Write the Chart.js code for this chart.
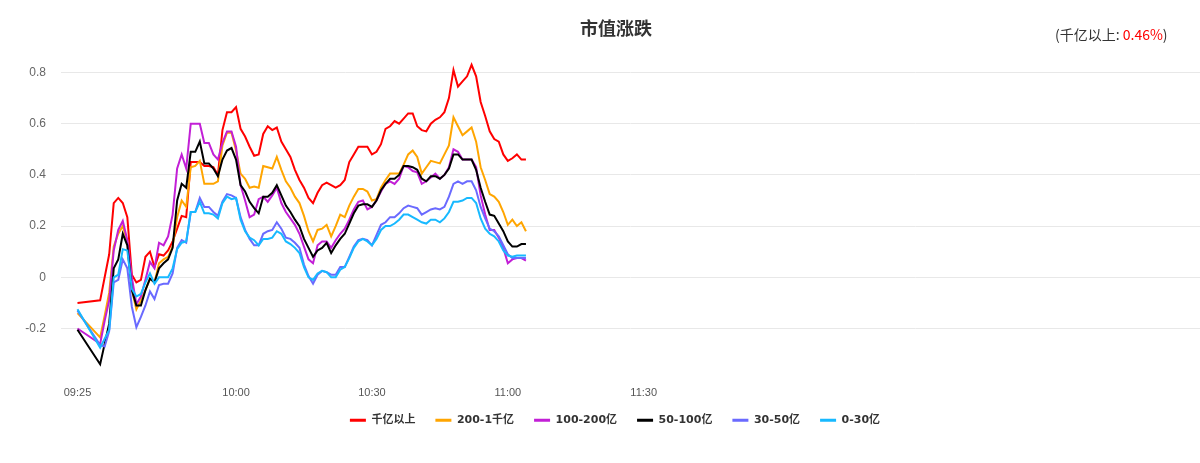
<!DOCTYPE html>
<html>
<head>
<meta charset="utf-8">
<script src="https://cdn.jsdelivr.net/npm/chart.js@4.4.1/dist/chart.umd.min.js"></script>
<style>
  html, body { margin: 0; padding: 0; background: #fff; }
  #wrap { width: 1200px; height: 463px; }
</style>
</head>
<body>
<div id="wrap"><canvas id="plot1" width="1200" height="463"></canvas></div>
<script>
// 市值涨跌 (%), one value per minute from 09:25, 09:26-09:29 empty
const seriesNames = ['千亿以上', '200-1千亿', '100-200亿', '50-100亿', '30-50亿', '0-30亿'];
const seriesColors = ['#ff0000', '#ffa500', '#c21fd6', '#000000', '#6a6aff', '#17b9ff'];

const bigCap = [
    -0.10, null, null, null, null, -0.09, 0.00, 0.09, 0.29, 0.31,
    0.29, 0.235, 0.01, -0.02, -0.01, 0.08, 0.10, 0.04, 0.09, 0.085,
    0.105, 0.14, 0.19, 0.24, 0.235, 0.45, 0.45, 0.45, 0.435, 0.435,
    0.43, 0.40, 0.575, 0.645, 0.645, 0.665, 0.58, 0.55, 0.51, 0.475,
    0.48, 0.56, 0.59, 0.575, 0.585, 0.53, 0.50, 0.47, 0.42, 0.38,
    0.35, 0.31, 0.29, 0.33, 0.36, 0.37, 0.36, 0.35, 0.36, 0.38,
    0.45, 0.48, 0.51, 0.51, 0.51, 0.48, 0.49, 0.52, 0.58, 0.59,
    0.61, 0.60, 0.62, 0.64, 0.64, 0.59, 0.575, 0.57, 0.60, 0.615,
    0.625, 0.645, 0.70, 0.81, 0.745, 0.765, 0.785, 0.83, 0.785, 0.685,
    0.63, 0.57, 0.54, 0.53, 0.48, 0.455, 0.465, 0.48, 0.46, 0.46
];
const cap200 = [
    -0.14, null, null, null, null, -0.235, -0.15, -0.06, 0.12, 0.17,
    0.20, 0.14, -0.05, -0.125, -0.09, -0.05, -0.005, -0.02, 0.055, 0.07,
    0.08, 0.12, 0.235, 0.30, 0.275, 0.43, 0.435, 0.455, 0.365, 0.365,
    0.365, 0.375, 0.515, 0.565, 0.565, 0.495, 0.405, 0.385, 0.35, 0.355,
    0.35, 0.435, 0.43, 0.425, 0.47, 0.42, 0.375, 0.35, 0.315, 0.29,
    0.24, 0.18, 0.14, 0.185, 0.19, 0.205, 0.16, 0.20, 0.245, 0.235,
    0.28, 0.315, 0.345, 0.345, 0.335, 0.30, 0.305, 0.35, 0.38, 0.405,
    0.405, 0.405, 0.44, 0.48, 0.495, 0.47, 0.405, 0.43, 0.455, 0.45,
    0.445, 0.48, 0.515, 0.625, 0.59, 0.555, 0.57, 0.585, 0.53, 0.43,
    0.38, 0.325, 0.315, 0.295, 0.255, 0.205, 0.225, 0.20, 0.215, 0.18
];
const cap100 = [
    -0.20, null, null, null, null, -0.26, -0.17, -0.09, 0.105, 0.185,
    0.22, 0.145, 0.0, -0.105, -0.075, -0.01, 0.06, 0.035, 0.135, 0.125,
    0.16, 0.245, 0.425, 0.48, 0.425, 0.60, 0.60, 0.60, 0.525, 0.525,
    0.48, 0.46, 0.525, 0.57, 0.57, 0.51, 0.36, 0.30, 0.235, 0.245,
    0.305, 0.315, 0.295, 0.32, 0.35, 0.29, 0.255, 0.23, 0.205, 0.17,
    0.12, 0.07, 0.055, 0.125, 0.14, 0.14, 0.115, 0.145, 0.17, 0.19,
    0.225, 0.265, 0.295, 0.30, 0.265, 0.275, 0.30, 0.335, 0.365, 0.375,
    0.365, 0.385, 0.435, 0.43, 0.415, 0.41, 0.365, 0.375, 0.39, 0.405,
    0.385, 0.40, 0.43, 0.50, 0.49, 0.46, 0.46, 0.46, 0.43, 0.32,
    0.245, 0.185, 0.185, 0.155, 0.115, 0.055, 0.07, 0.075, 0.075, 0.065
];
const cap50 = [
    -0.205, null, null, null, null, -0.34, -0.26, -0.18, 0.035, 0.07,
    0.17, 0.125, -0.05, -0.11, -0.11, -0.05, -0.005, -0.02, 0.035, 0.055,
    0.07, 0.115, 0.30, 0.365, 0.35, 0.49, 0.49, 0.53, 0.445, 0.445,
    0.425, 0.395, 0.46, 0.495, 0.505, 0.46, 0.36, 0.335, 0.295, 0.27,
    0.25, 0.315, 0.315, 0.33, 0.36, 0.32, 0.28, 0.255, 0.225, 0.20,
    0.15, 0.115, 0.08, 0.105, 0.115, 0.135, 0.095, 0.125, 0.15, 0.17,
    0.21, 0.25, 0.28, 0.285, 0.285, 0.275, 0.30, 0.34, 0.365, 0.385,
    0.385, 0.40, 0.435, 0.435, 0.43, 0.42, 0.385, 0.375, 0.395, 0.395,
    0.385, 0.40, 0.425, 0.48, 0.48, 0.46, 0.46, 0.46, 0.42, 0.35,
    0.295, 0.245, 0.24, 0.21, 0.18, 0.14, 0.12, 0.12, 0.13, 0.13
];
const cap30 = [
    -0.13, null, null, null, null, -0.265, -0.27, -0.21, -0.02, -0.01,
    0.07, 0.035, -0.115, -0.195, -0.155, -0.11, -0.055, -0.085, -0.03, -0.025,
    -0.025, 0.015, 0.115, 0.145, 0.135, 0.255, 0.255, 0.31, 0.275, 0.275,
    0.255, 0.24, 0.295, 0.325, 0.32, 0.31, 0.235, 0.185, 0.15, 0.125,
    0.125, 0.17, 0.18, 0.185, 0.215, 0.19, 0.155, 0.15, 0.135, 0.115,
    0.05, 0.005, -0.025, 0.01, 0.025, 0.02, 0.01, 0.01, 0.04, 0.04,
    0.08, 0.12, 0.145, 0.15, 0.145, 0.125, 0.165, 0.205, 0.215, 0.235,
    0.235, 0.25, 0.27, 0.28, 0.275, 0.27, 0.245, 0.255, 0.265, 0.27,
    0.265, 0.275, 0.315, 0.365, 0.375, 0.365, 0.375, 0.375, 0.34, 0.275,
    0.23, 0.19, 0.18, 0.16, 0.125, 0.09, 0.075, 0.075, 0.075, 0.075
];
const cap0 = [
    -0.125, null, null, null, null, -0.275, -0.24, -0.205, 0.0, 0.01,
    0.11, 0.105, -0.045, -0.075, -0.065, -0.02, 0.015, -0.025, 0.0, 0.0,
    0.0, 0.035, 0.11, 0.135, 0.14, 0.255, 0.255, 0.295, 0.25, 0.25,
    0.245, 0.23, 0.29, 0.315, 0.305, 0.31, 0.225, 0.18, 0.155, 0.145,
    0.125, 0.15, 0.15, 0.155, 0.18, 0.17, 0.14, 0.13, 0.115, 0.095,
    0.04, 0.0, -0.01, 0.015, 0.025, 0.02, 0.0, 0.0, 0.03, 0.04,
    0.075, 0.115, 0.14, 0.15, 0.14, 0.125, 0.15, 0.185, 0.20, 0.20,
    0.21, 0.225, 0.245, 0.245, 0.235, 0.225, 0.215, 0.21, 0.225, 0.225,
    0.215, 0.23, 0.255, 0.295, 0.295, 0.30, 0.31, 0.31, 0.29, 0.23,
    0.19, 0.17, 0.16, 0.14, 0.105, 0.085, 0.08, 0.085, 0.085, 0.085
];
const allSeries = [bigCap, cap200, cap100, cap50, cap30, cap0];

const yTicks = [-0.2, 0, 0.2, 0.4, 0.6, 0.8];
const xTickTimes = ['09:25', '10:00', '10:30', '11:00', '11:30'];

// trading minutes of the day (category positions)
function hhmm(m) {
    return String(Math.floor(m / 60)).padStart(2, '0') + ':' + String(m % 60).padStart(2, '0');
}
const minuteLabels = [];
for (let m = 9 * 60 + 25; m <= 11 * 60 + 30; m++) minuteLabels.push(hhmm(m));
for (let m = 13 * 60 + 1; m <= 15 * 60; m++) minuteLabels.push(hhmm(m));

function toPoints(arr) {
    return arr.map((v, i) => ({x: i, y: v}));
}

const datasets = allSeries.map((arr, k) => ({
    label: seriesNames[k],
    data: toPoints(arr),
    borderColor: seriesColors[k],
    backgroundColor: seriesColors[k],
    borderWidth: 2,
    pointRadius: 0,
    tension: 0,
    spanGaps: true,
    order: seriesNames.length - k
}));

// "(千亿以上: 0.46%)" at the top right
const headNote = {
    id: 'headNote',
    afterDraw(chart) {
        const ctx = chart.ctx;
        const last = bigCap[bigCap.length - 1];
        const parts = [['(千亿以上: ', '#333'], [last.toFixed(2) + '%', '#ff0000'], [')', '#333']];
        ctx.save();
        ctx.font = '14px "Noto Sans CJK SC"';
        ctx.textBaseline = 'middle';
        let x = 1055;
        parts.forEach(([t, c]) => {
            ctx.fillStyle = c;
            ctx.fillText(t, x, 35);
            x += ctx.measureText(t).width;
        });
        ctx.restore();
    }
};

// title and legend sit a little right of centre, legend row close to the axis labels
const blockNudge = {
    id: 'blockNudge',
    afterLayout(chart) {
        if (chart.legend) {
            chart.legend.top -= 7;
            chart.legend.bottom -= 7;
            chart.legend.left += 5;
            chart.legend.right += 5;
        }
        if (chart.titleBlock) {
            chart.titleBlock.left += 6;
            chart.titleBlock.right += 6;
        }
    }
};

const chart = new Chart(document.getElementById('plot1').getContext('2d'), {
    type: 'line',
    data: {datasets: datasets},
    plugins: [headNote, blockNudge],
    options: {
        responsive: false,
        animation: false,
        devicePixelRatio: 1,
        layout: {padding: {left: 20, right: 0, top: 0, bottom: 20.3}},
        plugins: {
            title: {
                display: true,
                text: '市值涨跌',
                color: '#333',
                font: {family: '"Noto Sans CJK SC"', size: 18, weight: 'bold'},
                padding: {top: 17, bottom: 21.1}
            },
            legend: {
                position: 'bottom',
                labels: {
                    color: '#333',
                    font: {family: '"DejaVu Sans", "Noto Sans CJK SC"', size: 11, weight: 'bold'},
                    usePointStyle: true,
                    pointStyleWidth: 16,
                    padding: 20,
                    sort: (a, b) => a.datasetIndex - b.datasetIndex,
                    generateLabels(c) {
                        return c.data.datasets.map((ds, i) => ({
                            text: ds.label,
                            fillStyle: ds.borderColor,
                            strokeStyle: ds.borderColor,
                            lineWidth: 3,
                            pointStyle: 'line',
                            fontColor: '#333',
                            hidden: false,
                            datasetIndex: i
                        }));
                    }
                }
            },
            tooltip: {enabled: false}
        },
        scales: {
            x: {
                type: 'linear',
                min: -3.64,
                max: 247.8,
                grid: {display: false, drawTicks: false},
                border: {display: false},
                ticks: {
                    color: '#555',
                    font: {family: '"Liberation Sans"', size: 11},
                    padding: 7,
                    maxRotation: 0,
                    autoSkip: false,
                    callback: (v) => minuteLabels[v]
                },
                afterBuildTicks(scale) {
                    scale.ticks = xTickTimes.map(t => ({value: minuteLabels.indexOf(t)}));
                },
                afterFit(scale) { scale.height = 22; }
            },
            y: {
                min: -0.4,
                max: 0.85,
                grid: {color: '#e8e8e8', drawTicks: false},
                border: {display: false},
                ticks: {
                    color: '#666',
                    font: {family: '"Liberation Sans"', size: 12},
                    padding: 15,
                    callback: (v) => String(+v.toFixed(1))
                },
                afterBuildTicks(scale) {
                    scale.ticks = yTicks.map(v => ({value: v}));
                },
                afterFit(scale) { scale.width = 41; }
            }
        }
    }
});
</script>
</body>
</html>
